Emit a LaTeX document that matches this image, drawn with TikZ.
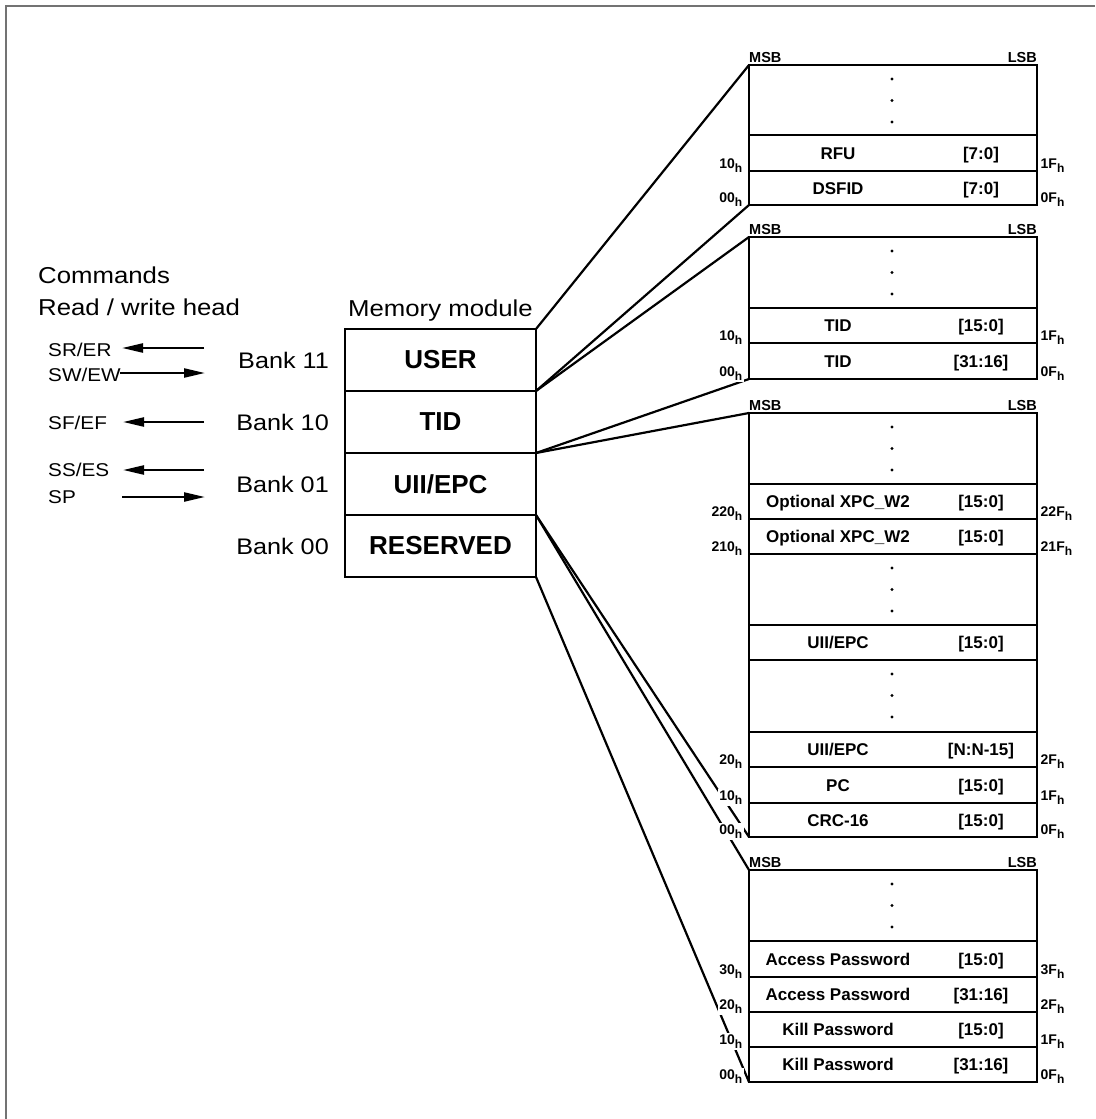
\documentclass[tikz,border=0pt]{standalone}
\usepackage{fontspec}
\setmainfont{Liberation Sans}
\newfontfamily\widesans[FakeStretch=1.12]{Liberation Sans}
\usetikzlibrary{positioning,arrows.meta}

\newcommand{\hsub}[1]{#1\raisebox{-4pt}{\fontsize{12}{14}\selectfont h}}

\tikzset{
  bank/.style={draw, line width=2.6pt, outer sep=0pt, inner sep=0pt,
    minimum width=191pt, minimum height=62pt,
    font=\fontsize{26}{30}\selectfont\bfseries},
  banklbl/.style={inner sep=0pt, font=\widesans\fontsize{22.5}{27}\selectfont},
  cmd/.style={anchor=west, inner sep=0pt, font=\widesans\fontsize{18.5}{22}\selectfont},
  head/.style={anchor=base west, inner sep=0pt, font=\widesans\fontsize{23}{28}\selectfont},
  cell/.style={anchor=base, inner sep=0pt, font=\fontsize{17}{20}\selectfont\bfseries},
  msb/.style={inner sep=0pt, font=\fontsize{14.5}{17}\selectfont\bfseries},
  addr/.style={fill=white, inner sep=1.5pt, font=\fontsize{14}{17}\selectfont\bfseries},
  blk/.style={line width=2.6pt},
  link/.style={line width=2.2pt},
  cmdarrow/.style={line width=2.3pt, -{Triangle[length=21pt,width=9pt]}},
  frame/.style={line width=2pt, draw=black!55}
}

\begin{document}
\begin{tikzpicture}[x=1pt,y=-1pt]
\useasboundingbox (0,0) rectangle (1095,1119);
\draw[frame] (6,1119) -- (6,6) -- (1095,6);

% memory module
\node[bank] (user) at (440.5,360) {USER};
\node[bank, below=0pt of user] (tid) {TID};
\node[bank, below=0pt of tid] (uii) {UII/EPC};
\node[bank, below=0pt of uii] (rsv) {RESERVED};
\node[head, anchor=base] (memlbl) at (440.5,316) {Memory module};

\node[banklbl, left=16pt of user] (bk11) {Bank 11};
\node[banklbl, left=16pt of tid] (bk10) {Bank 10};
\node[banklbl, left=16pt of uii] (bk01) {Bank 01};
\node[banklbl, left=16pt of rsv] (bk00) {Bank 00};

% commands
\node[head] (cmds) at (38,283) {Commands};
\node[head] (rwh) at (38,315) {Read / write head};

\node[cmd] (srer) at (48,350) {SR/ER};
\node[cmd] (swew) at (48,375) {SW/EW};
\node[cmd] (sfef) at (48,423) {SF/EF};
\node[cmd] (sses) at (48,470) {SS/ES};
\node[cmd] (sp) at (48,497) {SP};

\coordinate (srR) at (204,348);
\coordinate (srL) at (122,348);
\coordinate (swL) at (120,373);
\coordinate (swR) at (205,373);
\coordinate (sfR) at (204,422);
\coordinate (sfL) at (123,422);
\coordinate (ssR) at (204,470);
\coordinate (ssL) at (123,470);
\coordinate (spL) at (122,497);
\coordinate (spR) at (205,497);
\draw[cmdarrow] (srR) -- (srL);
\draw[cmdarrow] (swL) -- (swR);
\draw[cmdarrow] (sfR) -- (sfL);
\draw[cmdarrow] (ssR) -- (ssL);
\draw[cmdarrow] (spL) -- (spR);

% block corners
\coordinate (usrtop) at (749,65);
\coordinate (usrbot) at (749,205);
\coordinate (tidtop) at (749,237);
\coordinate (tidbot) at (749,379);
\coordinate (uiitop) at (749,413);
\coordinate (uiibot) at (749,837);
\coordinate (rsvtop) at (749,870);
\coordinate (rsvbot) at (749,1082);

\draw[link] (user.north east) -- (usrtop);
\draw[link] (user.south east) -- (usrbot);
\draw[link] (tid.north east) -- (tidtop);
\draw[link] (tid.south east) -- (tidbot);
\draw[link] (uii.north east) -- (uiitop);
\draw[link] (uii.south east) -- (uiibot);
\draw[link] (rsv.north east) -- (rsvtop);
\draw[link] (rsv.south east) -- (rsvbot);

% user bank
\draw[blk] (usrtop) rectangle (1037,205);
\draw[blk] (749,135) -- (1037,135);
\draw[blk] (749,171) -- (1037,171);
% tid bank
\draw[blk] (tidtop) rectangle (1037,379);
\draw[blk] (749,308) -- (1037,308);
\draw[blk] (749,343) -- (1037,343);
% uii bank
\draw[blk] (uiitop) rectangle (1037,837);
\draw[blk] (749,484) -- (1037,484);
\draw[blk] (749,519) -- (1037,519);
\draw[blk] (749,554) -- (1037,554);
\draw[blk] (749,625) -- (1037,625);
\draw[blk] (749,660) -- (1037,660);
\draw[blk] (749,732) -- (1037,732);
\draw[blk] (749,767) -- (1037,767);
\draw[blk] (749,803) -- (1037,803);
% reserved bank
\draw[blk] (rsvtop) rectangle (1037,1082);
\draw[blk] (749,941) -- (1037,941);
\draw[blk] (749,977) -- (1037,977);
\draw[blk] (749,1012) -- (1037,1012);
\draw[blk] (749,1047) -- (1037,1047);

\foreach \t in {65,237,413,554,660,870}
  \foreach \d in {14,35.5,57}
    \fill (892,\t+\d) circle (1.7pt);

\foreach \t [count=\i] in {65,237,413,870} {
  \node[msb, anchor=base west] (msb\i) at (749,\t-2.5) {MSB};
  \node[msb, anchor=base east] (lsb\i) at (1037,\t-2.5) {LSB};
}

% cells
\node[cell] (c1) at (838,159) {RFU};
\node[cell] (c1b) at (981,159) {[7:0]};
\node[cell] (c2) at (838,194) {DSFID};
\node[cell] (c2b) at (981,194) {[7:0]};
\node[cell] (c3) at (838,331.5) {TID};
\node[cell] (c3b) at (981,331.5) {[15:0]};
\node[cell] (c4) at (838,367) {TID};
\node[cell] (c4b) at (981,367) {[31:16]};
\node[cell] (c5) at (838,507.5) {Optional XPC\_W2};
\node[cell] (c5b) at (981,507.5) {[15:0]};
\node[cell] (c6) at (838,542.5) {Optional XPC\_W2};
\node[cell] (c6b) at (981,542.5) {[15:0]};
\node[cell] (c7) at (838,648.5) {UII/EPC};
\node[cell] (c7b) at (981,648.5) {[15:0]};
\node[cell] (c8) at (838,755.5) {UII/EPC};
\node[cell] (c8b) at (981,755.5) {[N:N-15]};
\node[cell] (c9) at (838,791) {PC};
\node[cell] (c9b) at (981,791) {[15:0]};
\node[cell] (c10) at (838,826) {CRC-16};
\node[cell] (c10b) at (981,826) {[15:0]};
\node[cell] (c11) at (838,965) {Access Password};
\node[cell] (c11b) at (981,965) {[15:0]};
\node[cell] (c12) at (838,1000.5) {Access Password};
\node[cell] (c12b) at (981,1000.5) {[31:16]};
\node[cell] (c13) at (838,1035.5) {Kill Password};
\node[cell] (c13b) at (981,1035.5) {[15:0]};
\node[cell] (c14) at (838,1070.5) {Kill Password};
\node[cell] (c14b) at (981,1070.5) {[31:16]};

% addresses
\node[addr, anchor=base east] (a1l) at (744,168) {\hsub{10}};
\node[addr, anchor=base west] (a1r) at (1039,168) {\hsub{1F}};
\node[addr, anchor=base east] (a2l) at (744,202) {\hsub{00}};
\node[addr, anchor=base west] (a2r) at (1039,202) {\hsub{0F}};
\node[addr, anchor=base east] (a3l) at (744,340) {\hsub{10}};
\node[addr, anchor=base west] (a3r) at (1039,340) {\hsub{1F}};
\node[addr, anchor=base east] (a4l) at (744,376) {\hsub{00}};
\node[addr, anchor=base west] (a4r) at (1039,376) {\hsub{0F}};
\node[addr, anchor=base east] (a5l) at (744,516) {\hsub{220}};
\node[addr, anchor=base west] (a5r) at (1039,516) {\hsub{22F}};
\node[addr, anchor=base east] (a6l) at (744,551) {\hsub{210}};
\node[addr, anchor=base west] (a6r) at (1039,551) {\hsub{21F}};
\node[addr, anchor=base east] (a7l) at (744,764) {\hsub{20}};
\node[addr, anchor=base west] (a7r) at (1039,764) {\hsub{2F}};
\node[addr, anchor=base east] (a8l) at (744,800) {\hsub{10}};
\node[addr, anchor=base west] (a8r) at (1039,800) {\hsub{1F}};
\node[addr, anchor=base east] (a9l) at (744,834) {\hsub{00}};
\node[addr, anchor=base west] (a9r) at (1039,834) {\hsub{0F}};
\node[addr, anchor=base east] (a10l) at (744,974) {\hsub{30}};
\node[addr, anchor=base west] (a10r) at (1039,974) {\hsub{3F}};
\node[addr, anchor=base east] (a11l) at (744,1009) {\hsub{20}};
\node[addr, anchor=base west] (a11r) at (1039,1009) {\hsub{2F}};
\node[addr, anchor=base east] (a12l) at (744,1044) {\hsub{10}};
\node[addr, anchor=base west] (a12r) at (1039,1044) {\hsub{1F}};
\node[addr, anchor=base east] (a13l) at (744,1079) {\hsub{00}};
\node[addr, anchor=base west] (a13r) at (1039,1079) {\hsub{0F}};
\end{tikzpicture}
\end{document}
